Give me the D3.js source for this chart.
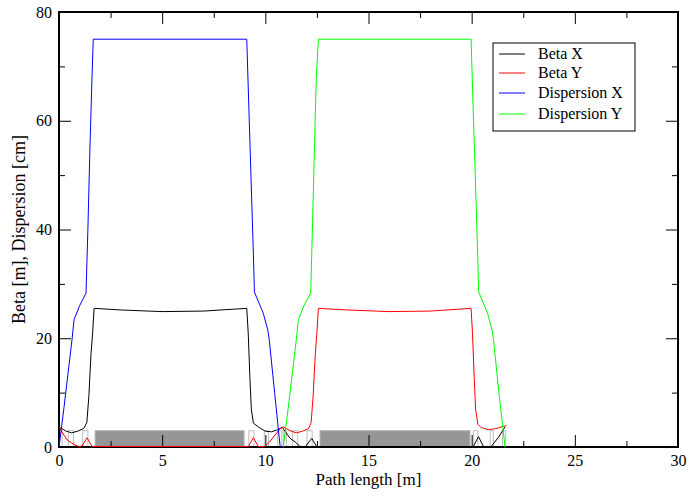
<!DOCTYPE html>
<html>
<head>
<meta charset="utf-8">
<script src="https://cdn.jsdelivr.net/npm/d3@7"></script>
<style>
  body { margin: 0; background: #fff; }
  svg { display: block; font-family: "Liberation Serif", "Times New Roman", serif; }
</style>
</head>
<body>
<svg width="690" height="496"></svg>
<script>
// tick values
var xTicks = [0, 5, 10, 15, 20, 25, 30];
var yTicks = [0, 20, 40, 60, 80];
var seriesNames = ["Beta X", "Beta Y", "Dispersion X", "Dispersion Y"];

// [s, value]
var betaX = [[0,3.7],[0.3,3.0],[0.6,2.6],[0.9,2.9],[1.2,3.4],[1.35,4.5],[1.45,9.5],[1.55,17.0],[1.63,21.0],[1.70,25.5],
  [3.0,25.2],[5.0,24.9],[7.0,25.0],[9.10,25.5],[9.17,21.0],[9.25,13.0],[9.32,7.0],[9.42,4.4],[9.7,3.6],[10.0,2.9],
  [10.3,2.8],[10.55,3.1],[10.82,3.6],[11.2,1.6],[11.45,0.9],[11.68,0.1],[11.95,0.1],[12.25,1.6],[12.49,0.05],
  [12.7,0.05],[19.8,0.05],[20.08,0.1],[20.33,1.9],[20.57,0.1],[20.95,0.1],[21.3,1.8],[21.62,3.7]];
var betaY = [[0,3.7],[0.2,2.4],[0.4,1.3],[0.7,0.5],[0.95,0.1],[1.12,0.2],[1.36,1.7],[1.6,0.1],[1.8,0.1],[9.0,0.1],
  [9.18,0.1],[9.42,1.7],[9.66,0.1],[9.95,0.1],[10.2,0.9],[10.47,2.2],[10.7,3.3],[10.87,3.7],[11.2,3.0],[11.5,2.6],
  [11.8,2.9],[12.1,3.4],[12.22,4.5],[12.32,9.5],[12.42,17.0],[12.5,21.0],[12.57,25.5],[14.0,25.2],[16.0,24.9],
  [18.0,25.0],[19.97,25.5],[20.04,21.0],[20.12,13.0],[20.19,7.0],[20.3,4.2],[20.45,3.6],[20.8,3.2],[21.05,3.3],
  [21.3,3.5],[21.5,3.8],[21.68,3.9]];
var dispX = [[0,0],[0.24,7.2],[0.63,19.7],[0.73,23.4],[1.0,26.0],[1.31,28.3],[1.40,40.0],[1.50,55.0],[1.60,68.0],
  [1.66,75.0],[9.10,75.0],[9.22,60.1],[9.34,45.4],[9.42,35.7],[9.47,28.5],[9.90,24.6],[10.12,21.5],[10.19,19.7],
  [10.45,10.0],[10.72,0]];
var dispY = [[10.87,0],[11.11,7.2],[11.50,19.7],[11.60,23.4],[11.87,26.0],[12.20,28.3],[12.28,40.0],[12.38,55.0],
  [12.47,68.0],[12.57,75.0],[19.97,75.0],[20.09,60.1],[20.21,45.4],[20.29,35.7],[20.34,28.5],[20.77,24.6],
  [20.99,21.5],[21.06,19.7],[21.32,10.0],[21.62,0]];

// lattice elements [start, end]
var dipoles = [[1.75, 8.97], [12.65, 19.92]];
var quads = [[0.0,0.15],[0.45,0.7],[1.15,1.4],[9.2,9.45],[9.95,10.15],[10.6,10.8],
  [10.87,11.02],[11.32,11.57],[12.02,12.27],[20.1,20.3],[20.9,21.05],[21.5,21.65]];
var elemHeight = 3;

var svg = d3.select("svg"),
    margin = {left: 59, right: 12, top: 12, bottom: 49},
    width = 690 - margin.left - margin.right,
    height = 496 - margin.top - margin.bottom;

var x = d3.scaleLinear().domain([0, 30]).range([0, width]);
var y = d3.scaleLinear().domain([0, 80]).range([height, 0]);

var g = svg.append("g").attr("transform", "translate(" + margin.left + "," + margin.top + ")");

// elements
g.selectAll(".dip").data(dipoles).enter().append("rect")
  .attr("x", function(d){ return x(d[0]); })
  .attr("y", y(elemHeight))
  .attr("width", function(d){ return x(d[1]) - x(d[0]); })
  .attr("height", y(0) - y(elemHeight))
  .attr("fill", "#969696")
  .attr("stroke", "#b4b4b4").attr("stroke-width", 1);

g.selectAll(".quad").data(quads).enter().append("rect")
  .attr("x", function(d){ return x(d[0]); })
  .attr("y", y(elemHeight))
  .attr("width", function(d){ return x(d[1]) - x(d[0]); })
  .attr("height", y(0) - y(elemHeight))
  .attr("fill", "none")
  .attr("stroke", "#bdbdbd").attr("stroke-width", 1);

// axes (ticks inward, mirrored)
var major = 12, minor = 6;
var xMinor = d3.range(0, 30.01, 2.5).filter(function(v){ return v % 5 !== 0; });
var yMinor = d3.range(0, 80.01, 10).filter(function(v){ return v % 20 !== 0; });

g.append("g").attr("transform", "translate(0," + height + ")")
  .call(d3.axisBottom(x).tickValues(xTicks).tickSize(-major).tickPadding(8))
  .call(function(a){ a.select(".domain").remove(); });
g.append("g").attr("transform", "translate(0," + height + ")")
  .call(d3.axisBottom(x).tickValues(xMinor).tickSize(-minor).tickFormat(""))
  .call(function(a){ a.select(".domain").remove(); });
g.append("g")
  .call(d3.axisTop(x).tickValues(xTicks).tickSize(-major).tickFormat(""))
  .call(function(a){ a.select(".domain").remove(); });
g.append("g")
  .call(d3.axisTop(x).tickValues(xMinor).tickSize(-minor).tickFormat(""))
  .call(function(a){ a.select(".domain").remove(); });

g.append("g")
  .call(d3.axisLeft(y).tickValues(yTicks).tickSize(-major).tickPadding(7))
  .call(function(a){ a.select(".domain").remove(); });
g.append("g")
  .call(d3.axisLeft(y).tickValues(yMinor).tickSize(-minor).tickFormat(""))
  .call(function(a){ a.select(".domain").remove(); });
g.append("g").attr("transform", "translate(" + width + ",0)")
  .call(d3.axisRight(y).tickValues(yTicks).tickSize(-major).tickFormat(""))
  .call(function(a){ a.select(".domain").remove(); });
g.append("g").attr("transform", "translate(" + width + ",0)")
  .call(d3.axisRight(y).tickValues(yMinor).tickSize(-minor).tickFormat(""))
  .call(function(a){ a.select(".domain").remove(); });

g.selectAll(".tick line").attr("stroke", "#000").attr("stroke-width", 1);
g.selectAll(".tick text").attr("font-size", "16px").attr("fill", "#000")
  .attr("font-family", "'Liberation Serif', serif");

g.append("rect").attr("width", width).attr("height", height)
  .attr("fill", "none").attr("stroke", "#000").attr("stroke-width", 2);

// curves
var line = d3.line().x(function(d){ return x(d[0]); }).y(function(d){ return y(d[1]); });
var series = [betaX, betaY, dispX, dispY];
var colors = ["#000000", "#ff0000", "#0000ff", "#00ff00"];
series.forEach(function(s, i){
  g.append("path").datum(s)
    .attr("d", line)
    .attr("fill", "none")
    .attr("stroke", colors[i])
    .attr("stroke-width", 1);
});

// axis labels
svg.append("text")
  .attr("x", margin.left + width / 2).attr("y", 485)
  .attr("text-anchor", "middle").attr("font-size", "17px")
  .text("Path length [m]");
svg.append("text")
  .attr("transform", "translate(25," + (margin.top + height / 2) + ") rotate(-90)")
  .attr("text-anchor", "middle").attr("font-size", "18px")
  .text("Beta [m], Dispersion [cm]");

// legend
var lg = svg.append("g").attr("transform", "translate(493,43)");
lg.append("rect").attr("width", 142).attr("height", 88)
  .attr("fill", "#fff").attr("stroke", "#000").attr("stroke-width", 1);
var rowY = [11, 30, 50, 71];
seriesNames.forEach(function(name, i){
  lg.append("line").attr("x1", 6).attr("x2", 32).attr("y1", rowY[i]).attr("y2", rowY[i])
    .attr("stroke", colors[i]).attr("stroke-width", 1);
  lg.append("text").attr("x", 45).attr("y", rowY[i] + 5)
    .attr("font-size", "16px").text(name);
});
</script>
</body>
</html>
